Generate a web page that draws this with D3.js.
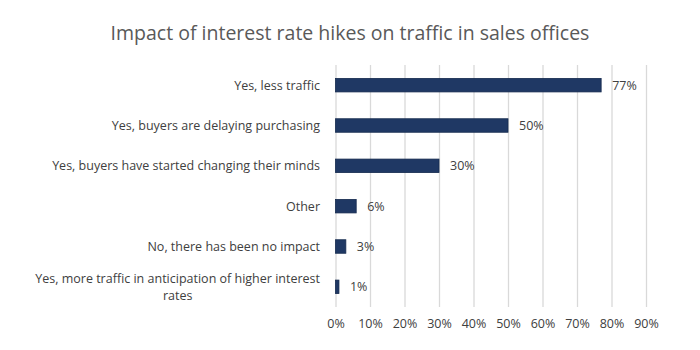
<!DOCTYPE html>
<html>
<head>
<meta charset="utf-8">
<script src="https://cdn.jsdelivr.net/npm/d3@7"></script>
<style>
  html, body { margin: 0; padding: 0; background: #ffffff; }
  svg { display: block; font-family: "Open Sans", "Noto Sans", sans-serif; }
</style>
</head>
<body>
<svg id="chart" width="700" height="350"></svg>
<script>
// Survey responses, top to bottom
const categories = [
  "Yes, less traffic",
  "Yes, buyers are delaying purchasing",
  "Yes, buyers have started changing their minds",
  "Other",
  "No, there has been no impact",
  "Yes, more traffic in anticipation of higher interest rates"
];
const values = [77, 50, 30, 6, 3, 1];
const tickValues = [0, 10, 20, 30, 40, 50, 60, 70, 80, 90];
const title = "Impact of interest rate hikes on traffic in sales offices";

const svg = d3.select("#chart");
const margin = { left: 335.5, right: 54, top: 65, bottom: 43 };
const W = 700, H = 350;

const x = d3.scaleLinear().domain([0, 90]).range([margin.left, W - margin.right]);
const y = d3.scaleBand().domain(categories).range([margin.top, H - margin.bottom]).paddingInner(0.665).paddingOuter(0.3325);

// Title
svg.append("text")
  .attr("x", 350).attr("y", 40)
  .attr("text-anchor", "middle")
  .attr("fill", "#595959")
  .attr("font-size", 19.5)
  .text(title);

// Vertical gridlines
const xAxis = d3.axisBottom(x).tickValues(tickValues).tickFormat(d => d + "%").tickSize(-(H - margin.top - margin.bottom)).tickPadding(12);
const gx = svg.append("g").attr("transform", `translate(0,${H - margin.bottom})`).call(xAxis);
gx.select(".domain").remove();
gx.selectAll(".tick line").attr("stroke", "#d9d9d9").attr("stroke-width", 1.3);
gx.selectAll(".tick text").attr("fill", "#404040").attr("font-size", 12.5).attr("font-family", "\"Open Sans\", \"Noto Sans\", sans-serif");

// Bars
svg.append("g").selectAll("rect")
  .data(values)
  .join("rect")
  .attr("x", x(0))
  .attr("y", (d, i) => y(categories[i]))
  .attr("width", d => x(d) - x(0))
  .attr("height", y.bandwidth())
  .attr("fill", "#1f3864")
  .attr("stroke", "#162b4f")
  .attr("stroke-width", 0.8);

// Value labels
svg.append("g").selectAll("text")
  .data(values)
  .join("text")
  .attr("x", d => x(d) + 11)
  .attr("y", (d, i) => y(categories[i]) + y.bandwidth() / 2)
  .attr("dy", "0.35em")
  .attr("fill", "#404040")
  .attr("font-size", 12.5)
  .text(d => d + "%");

// Category labels, wrapping the long one onto two centred lines
const labelRight = 320;
const maxWidth = 285;
const lg = svg.append("g");
categories.forEach((c, i) => {
  const cy = y(c) + y.bandwidth() / 2;
  const t = lg.append("text")
    .attr("fill", "#404040")
    .attr("font-size", 12.5)
    .attr("text-anchor", "end")
    .attr("x", labelRight)
    .attr("y", cy)
    .attr("dy", "0.35em")
    .text(c);
  if (t.node().getComputedTextLength() > maxWidth) {
    const words = c.split(" ");
    const last = words.pop();
    const first = words.join(" ");
    t.text(first).attr("y", cy - 8.5);
    const w = t.node().getComputedTextLength();
    lg.append("text")
      .attr("fill", "#404040")
      .attr("font-size", 12.5)
      .attr("text-anchor", "middle")
      .attr("x", labelRight - w / 2)
      .attr("y", cy + 8.5)
      .attr("dy", "0.35em")
      .text(last);
  }
});
</script>
</body>
</html>
